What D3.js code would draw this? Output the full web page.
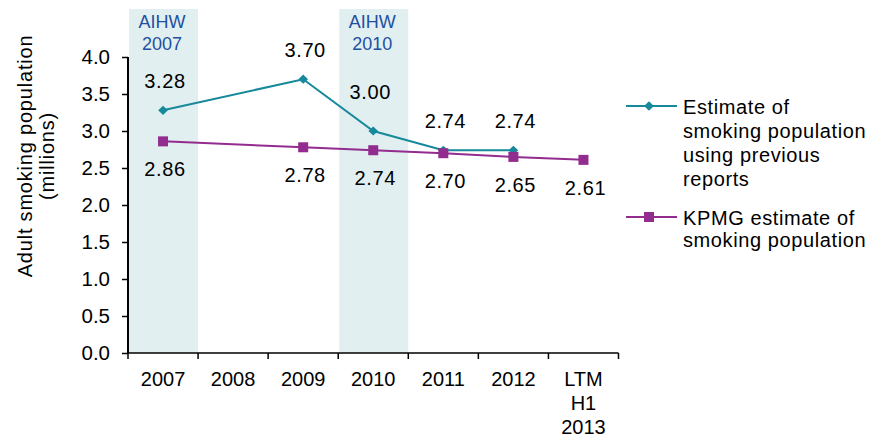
<!DOCTYPE html>
<html>
<head>
<meta charset="utf-8">
<script src="https://cdn.jsdelivr.net/npm/d3@7"></script>
<style>
  html, body { margin: 0; padding: 0; background: #ffffff; }
  svg { display: block; font-family: "Liberation Sans", Arial, sans-serif; }
</style>
</head>
<body>
<svg id="chart" width="873" height="437"></svg>
<script>
// Categories along the x axis
const categories = ["2007", "2008", "2009", "2010", "2011", "2012", "LTM H1 2013"];
const categoryLabels = [["2007"], ["2008"], ["2009"], ["2010"], ["2011"], ["2012"], ["LTM", "H1", "2013"]];

// Adult smoking population, millions
const estimatePrevious = [3.28, null, 3.70, 3.00, 2.74, 2.74, null];
const kpmgEstimate = [2.86, null, 2.78, 2.74, 2.70, 2.65, 2.61];

// Survey years highlighted with a shaded band
const highlightYears = ["2007", "2010"];
const highlightLabels = [["AIHW", "2007"], ["AIHW", "2010"]];

const yTicks = [0, 0.5, 1.0, 1.5, 2.0, 2.5, 3.0, 3.5, 4.0];

const seriesNames = [
  ["Estimate of", "smoking population", "using previous", "reports"],
  ["KPMG estimate of", "smoking population"]
];

const teal = "#16899a";
const purple = "#922c8f";

const svg = d3.select("#chart");
const m = { left: 128, right: 618.5, top: 57, bottom: 353 };

const x = d3.scaleBand().domain(categories).range([m.left, m.right]).paddingInner(0).paddingOuter(0);
const y = d3.scaleLinear().domain([0, 4]).range([m.bottom, m.top]);
const cx = c => x(c) + x.bandwidth() / 2;

// Shaded bands for the AIHW survey years
const bands = svg.append("g");
highlightYears.forEach((yr, i) => {
  bands.append("rect")
    .attr("x", x(yr) + 1)
    .attr("y", 9)
    .attr("width", x.bandwidth() - 1)
    .attr("height", m.bottom - 9)
    .attr("fill", "#e1eff1");
  const t = bands.append("text")
    .attr("x", cx(yr) - 1)
    .attr("y", 28)
    .attr("text-anchor", "middle")
    .attr("font-size", 18)
    .attr("fill", "#2150a0");
  highlightLabels[i].forEach((ln, j) => {
    t.append("tspan").attr("x", cx(yr) - 1).attr("dy", j === 0 ? 0 : 22).text(ln);
  });
});

// Y axis
const yAxis = svg.append("g")
  .attr("transform", `translate(${m.left},0)`)
  .call(d3.axisLeft(y).tickValues(yTicks).tickFormat(d3.format(".1f")).tickSize(6).tickPadding(12));
yAxis.select(".domain").attr("stroke", "#000").attr("stroke-width", 2).attr("d", `M0,${m.top}V${m.bottom}`);
yAxis.selectAll(".tick line").attr("stroke", "#000").attr("stroke-width", 1.5);
yAxis.selectAll(".tick text").attr("font-size", 20.5).attr("fill", "#000")
  .attr("font-family", "Liberation Sans, Arial, sans-serif");

// X axis: baseline with ticks at category boundaries
const xAxis = svg.append("g");
xAxis.append("line")
  .attr("x1", m.left).attr("x2", m.right)
  .attr("y1", y(0)).attr("y2", y(0))
  .attr("stroke", "#000").attr("stroke-width", 1.5);
const boundaries = categories.map(c => x(c)).concat([x(categories[categories.length - 1]) + x.bandwidth()]);
xAxis.selectAll("line.tk").data(boundaries).join("line")
  .attr("class", "tk")
  .attr("x1", d => d).attr("x2", d => d)
  .attr("y1", y(0)).attr("y2", y(0) + 6)
  .attr("stroke", "#000").attr("stroke-width", 1.5);
categories.forEach((c, i) => {
  const t = xAxis.append("text")
    .attr("x", cx(c))
    .attr("y", 386)
    .attr("text-anchor", "middle")
    .attr("font-size", 20)
    .attr("fill", "#000");
  categoryLabels[i].forEach((ln, j) => {
    t.append("tspan").attr("x", cx(c)).attr("dy", j === 0 ? 0 : 24).text(ln);
  });
});

// Y axis title
const yTitle = svg.append("g").attr("transform", "translate(0,156) rotate(-90)");
yTitle.append("text").attr("x", 0).attr("y", 32).attr("text-anchor", "middle")
  .attr("font-size", 20).attr("letter-spacing", 0.8).attr("fill", "#000")
  .text("Adult smoking population");
yTitle.append("text").attr("x", 0).attr("y", 54).attr("text-anchor", "middle")
  .attr("font-size", 20).attr("letter-spacing", 0.8).attr("fill", "#000")
  .text("(millions)");

// Series
const toPoints = vals => categories.map((c, i) => ({ c, v: vals[i] })).filter(d => d.v != null);
const line = d3.line().x(d => cx(d.c)).y(d => y(d.v));

const estPts = toPoints(estimatePrevious);
const kpmgPts = toPoints(kpmgEstimate);

svg.append("path").datum(kpmgPts).attr("d", line)
  .attr("fill", "none").attr("stroke", purple).attr("stroke-width", 2);
svg.append("path").datum(estPts).attr("d", line)
  .attr("fill", "none").attr("stroke", teal).attr("stroke-width", 2);

const diamond = d3.symbol().type(d3.symbolDiamond2).size(60);
svg.append("g").selectAll("path").data(estPts).join("path")
  .attr("d", diamond)
  .attr("transform", d => `translate(${cx(d.c)},${y(d.v)}) scale(1,0.95)`)
  .attr("fill", teal);

svg.append("g").selectAll("rect").data(kpmgPts).join("rect")
  .attr("x", d => cx(d.c) - 5).attr("y", d => y(d.v) - 5)
  .attr("width", 10).attr("height", 10)
  .attr("fill", purple);

// Value labels: previous-report estimates above, KPMG estimates below
const labelFmt = d3.format(".2f");
const aboveOffset = d => (d.c === "2010" ? 32 : 22);
svg.append("g").selectAll("text").data(estPts).join("text")
  .attr("x", d => cx(d.c) + (d.c === "2010" ? -3 : 2))
  .attr("y", d => y(d.v) - aboveOffset(d))
  .attr("text-anchor", "middle").attr("font-size", 20).attr("letter-spacing", 0.6)
  .attr("fill", "#000")
  .text(d => labelFmt(d.v));
svg.append("g").selectAll("text").data(kpmgPts).join("text")
  .attr("x", d => cx(d.c) + 2)
  .attr("y", d => y(d.v) + 35)
  .attr("text-anchor", "middle").attr("font-size", 20).attr("letter-spacing", 0.6)
  .attr("fill", "#000")
  .text(d => labelFmt(d.v));

// Legend
const legend = svg.append("g");
const legendItems = [
  { color: teal, marker: "diamond", lines: seriesNames[0], y: 106, lh: 24 },
  { color: purple, marker: "square", lines: seriesNames[1], y: 217, lh: 22 }
];
legendItems.forEach(it => {
  legend.append("line").attr("x1", 626).attr("x2", 677).attr("y1", it.y).attr("y2", it.y)
    .attr("stroke", it.color).attr("stroke-width", 2);
  if (it.marker === "diamond") {
    legend.append("path").attr("d", diamond).attr("transform", `translate(649,${it.y})`).attr("fill", it.color);
  } else {
    legend.append("rect").attr("x", 644).attr("y", it.y - 5).attr("width", 10).attr("height", 10).attr("fill", it.color);
  }
  const t = legend.append("text").attr("x", 683).attr("y", it.y + 8)
    .attr("font-size", 20).attr("letter-spacing", 0.6).attr("fill", "#000");
  it.lines.forEach((ln, j) => {
    t.append("tspan").attr("x", 683).attr("dy", j === 0 ? 0 : it.lh).text(ln);
  });
});
</script>
</body>
</html>
